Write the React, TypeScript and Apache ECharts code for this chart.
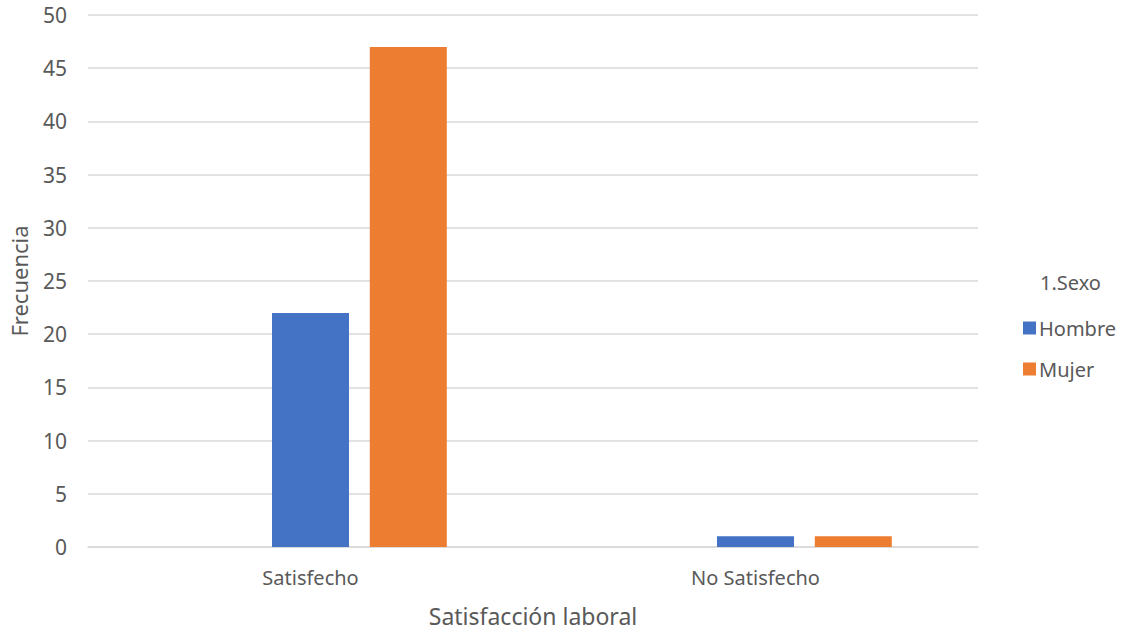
import React, { useEffect, useRef } from "react";
import * as echarts from "echarts";

const categories = ["Satisfecho", "No Satisfecho"];
const hombre = [22, 1];
const mujer = [47, 1];
const spacer = [null, null];
const yTicks = { min: 0, max: 50, interval: 5 };

const FONT = "'Noto Sans', 'Open Sans', sans-serif";
const TEXT = "#595959";

export default function App() {
  const ref = useRef<HTMLDivElement>(null);

  useEffect(() => {
    if (!ref.current) return;
    const chart = echarts.init(ref.current, undefined, { renderer: "svg" });
    chart.setOption({
      animation: false,
      backgroundColor: "#ffffff",
      textStyle: { fontFamily: FONT, color: TEXT },
      grid: {
        left: 88,
        right: 147,
        top: 15,
        bottom: 85,
        containLabel: false,
        outerBoundsMode: "none",
      },
      xAxis: {
        type: "category",
        data: categories,
        name: "Satisfacción laboral",
        nameLocation: "middle",
        nameGap: 57,
        nameTextStyle: { fontSize: 23, lineHeight: 23, color: TEXT, fontFamily: FONT },
        axisLine: { show: true, lineStyle: { color: "#d9d9d9", width: 1.5 } },
        axisTick: { show: false },
        axisLabel: { fontSize: 20, color: TEXT, margin: 20, fontFamily: FONT },
      },
      yAxis: {
        type: "value",
        min: yTicks.min,
        max: yTicks.max,
        interval: yTicks.interval,
        name: "Frecuencia",
        nameLocation: "middle",
        nameGap: 58,
        nameTextStyle: { fontSize: 22, color: TEXT, fontFamily: FONT },
        axisLine: { show: false },
        axisTick: { show: false },
        axisLabel: { fontSize: 21, color: TEXT, margin: 21, fontFamily: FONT },
        splitLine: { lineStyle: { color: "#d9d9d9", width: 1.5 } },
      },
      legend: {
        orient: "vertical",
        left: 1018,
        top: 313,
        itemWidth: 13,
        itemHeight: 13,
        itemGap: 21,
        icon: "rect",
        data: ["Hombre", "Mujer"],
        textStyle: { fontSize: 20, color: TEXT, fontFamily: FONT, padding: [0, 0, 0, -2] },
      },
      graphic: [
        {
          type: "text",
          left: 1040,
          top: 272,
          style: { text: "1.Sexo", fontSize: 20, fill: TEXT, fontFamily: FONT },
        },
      ],
      series: [
        {
          name: "_",
          type: "bar",
          data: spacer,
          barWidth: 77,
          barGap: "27%",
          itemStyle: { color: "transparent" },
        },
        {
          name: "Hombre",
          type: "bar",
          data: hombre,
          barWidth: 77,
          barGap: "27%",
          itemStyle: { color: "#4472c4" },
        },
        {
          name: "Mujer",
          type: "bar",
          data: mujer,
          barWidth: 77,
          barGap: "27%",
          itemStyle: { color: "#ed7d31" },
        },
      ],
    });
    return () => chart.dispose();
  }, []);

  return <div ref={ref} style={{ width: 1125, height: 632, position: "absolute", left: 0, top: 0 }} />;
}
